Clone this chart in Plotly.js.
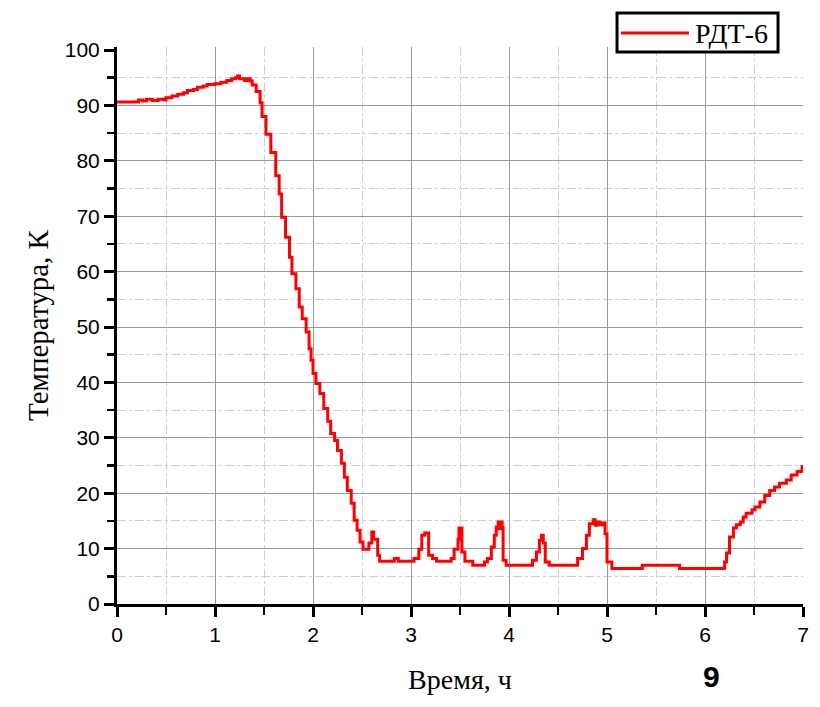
<!DOCTYPE html>
<html>
<head>
<meta charset="utf-8">
<script src="https://cdn.plot.ly/plotly-3.0.1.min.js"></script>
<style>html,body{margin:0;padding:0;background:#fff;}#chart{width:820px;height:707px;}</style>
</head>
<body>
<div id="chart"></div>
<script>
// Time, hours
const timeH = [0, 0.22, 0.26, 0.30, 0.36, 0.42, 0.48, 0.50, 0.56, 0.62, 0.68, 0.72, 0.78, 0.82, 0.88, 0.92, 1.00, 1.06, 1.12, 1.17, 1.21, 1.23, 1.25, 1.30, 1.33, 1.36, 1.38, 1.42, 1.46, 1.48, 1.52, 1.57, 1.62, 1.655, 1.68, 1.72, 1.76, 1.785, 1.826, 1.86, 1.89, 1.93, 1.96, 1.98, 2.00, 2.03, 2.07, 2.11, 2.15, 2.18, 2.22, 2.25, 2.29, 2.32, 2.35, 2.39, 2.42, 2.45, 2.48, 2.51, 2.57, 2.60, 2.62, 2.66, 2.68, 2.83, 2.87, 3.03, 3.08, 3.11, 3.14, 3.18, 3.22, 3.26, 3.41, 3.44, 3.48, 3.49, 3.52, 3.55, 3.63, 3.75, 3.78, 3.82, 3.85, 3.87, 3.89, 3.90, 3.91, 3.93, 3.94, 3.97, 4.24, 4.28, 4.31, 4.33, 4.35, 4.37, 4.41, 4.70, 4.75, 4.79, 4.82, 4.86, 4.88, 4.90, 4.93, 4.95, 4.98, 5.00, 5.05, 5.36, 5.74, 6.20, 6.22, 6.25, 6.29, 6.32, 6.36, 6.39, 6.42, 6.48, 6.51, 6.56, 6.61, 6.66, 6.71, 6.76, 6.83, 6.88, 6.94, 6.99, 7.00];
// Temperature, K (RDT-6)
const tempK = [90.6, 91.0, 90.8, 91.1, 90.9, 91.1, 91.0, 91.4, 91.7, 92.0, 92.3, 92.7, 92.9, 93.3, 93.5, 93.8, 93.9, 94.2, 94.5, 94.8, 95.0, 95.3, 94.8, 94.5, 94.8, 94.4, 93.7, 92.5, 90.5, 88.0, 84.8, 81.5, 77.3, 74.0, 69.8, 66.2, 62.6, 59.6, 56.9, 53.6, 51.5, 49.1, 46.1, 44.0, 41.6, 39.8, 38.0, 35.3, 33.0, 30.8, 29.5, 27.7, 25.4, 22.9, 20.5, 18.2, 15.1, 13.3, 11.2, 9.9, 11.0, 13.0, 11.7, 8.8, 7.7, 8.2, 7.7, 8.2, 9.9, 12.4, 12.8, 8.8, 8.2, 7.7, 8.2, 9.9, 11.7, 13.7, 9.4, 7.7, 7.0, 7.6, 8.2, 10.3, 12.4, 13.9, 14.8, 13.6, 14.8, 13.8, 7.9, 7.0, 7.9, 9.4, 11.5, 12.4, 11.0, 7.6, 7.0, 8.2, 10.0, 12.4, 14.5, 15.2, 14.2, 14.8, 14.3, 14.6, 12.7, 7.6, 6.4, 7.0, 6.4, 7.6, 9.2, 12.1, 13.7, 14.3, 14.8, 15.7, 16.4, 17.0, 17.5, 18.4, 19.6, 20.5, 21.1, 21.8, 22.4, 23.3, 23.9, 24.8, 24.8];

const seriesName = 'РДТ-6';
const xTitle = 'Время, ч';
const yTitle = 'Температура, К';
const figLabel = '9';
const xMajorGrid = [1, 2, 3, 4, 5, 6];
const yMajorGrid = [10, 20, 30, 40, 50, 60, 70, 80, 90];

const serif = '"Liberation Serif", "Times New Roman", serif';
const sans = '"Liberation Sans", Arial, sans-serif';
const lineColor = '#ff0000';

const traces = [
  {
    x: timeH, y: tempK, type: 'scatter', mode: 'lines', name: seriesName,
    line: {color: lineColor, width: 3, shape: 'hv'}, showlegend: false
  },
  // empty helper trace for the overlay grid axes
  {x: [], y: [], xaxis: 'x2', yaxis: 'y2', showlegend: false, hoverinfo: 'skip'}
];

// legend box (paper coordinates)
const legBox = {x0: 0.7289, x1: 0.9636, y0: 0.991, y1: 1.061};
const legLine = {x0: 0.7347, x1: 0.8338, y: 1.0251};

const layout = {
  width: 820, height: 707,
  margin: {l: 117, r: 17, t: 47, b: 103},
  paper_bgcolor: '#fff', plot_bgcolor: '#fff',
  showlegend: false,
  xaxis: {
    range: [0, 7], showgrid: false, zeroline: false,
    showline: true, linecolor: '#000', linewidth: 3,
    ticks: 'outside', ticklen: 10, tickwidth: 3, tickcolor: '#000',
    dtick: 1, tick0: 0,
    tickfont: {family: sans, size: 21, color: '#000'},
    minor: {dtick: 0.5, tick0: 0, ticks: 'outside', ticklen: 8, tickwidth: 2.5, tickcolor: '#000',
            showgrid: true, gridcolor: '#cfcfcf', griddash: 'dashdot', gridwidth: 1},
    title: {text: xTitle, font: {family: serif, size: 28, color: '#000'}, standoff: 25}
  },
  yaxis: {
    range: [0, 100.55], showgrid: false, zeroline: false,
    showline: true, linecolor: '#000', linewidth: 3,
    ticks: 'outside', ticklen: 10, tickwidth: 3, tickcolor: '#000',
    dtick: 10, tick0: 0,
    tickfont: {family: sans, size: 21, color: '#000'},
    minor: {dtick: 5, tick0: 0, ticks: 'outside', ticklen: 7, tickwidth: 2.5, tickcolor: '#000',
            showgrid: true, gridcolor: '#cfcfcf', griddash: 'dashdot', gridwidth: 1},
    title: {text: yTitle, font: {family: serif, size: 29, color: '#000'}, standoff: 8}
  },
  xaxis2: {
    overlaying: 'x', range: [0, 7], tickvals: xMajorGrid, showticklabels: false, ticks: '',
    showgrid: true, gridcolor: '#9a9a9a', gridwidth: 1, zeroline: false, showline: false
  },
  yaxis2: {
    overlaying: 'y', range: [0, 100.55], tickvals: yMajorGrid, showticklabels: false, ticks: '',
    showgrid: true, gridcolor: '#9a9a9a', gridwidth: 1, zeroline: false, showline: false
  },
  shapes: [
    {type: 'rect', xref: 'paper', yref: 'paper', x0: legBox.x0, x1: legBox.x1, y0: legBox.y0, y1: legBox.y1,
     line: {color: '#000', width: 3}, fillcolor: '#fff', layer: 'above'},
    {type: 'line', xref: 'paper', yref: 'paper', x0: legLine.x0, x1: legLine.x1, y0: legLine.y, y1: legLine.y,
     line: {color: lineColor, width: 3}, layer: 'above'}
  ],
  annotations: [
    {text: seriesName, xref: 'paper', yref: 'paper', x: 0.8395, y: legLine.y,
     xanchor: 'left', yanchor: 'middle', showarrow: false,
     font: {family: serif, size: 28, color: '#000'}},
    {text: '<b>' + figLabel + '</b>', xref: 'paper', yref: 'paper', x: 0.866, y: -0.13,
     xanchor: 'center', yanchor: 'middle', showarrow: false,
     font: {family: sans, size: 30, color: '#000'}}
  ]
};

Plotly.newPlot('chart', traces, layout, {staticPlot: true, displayModeBar: false});
</script>
</body>
</html>
